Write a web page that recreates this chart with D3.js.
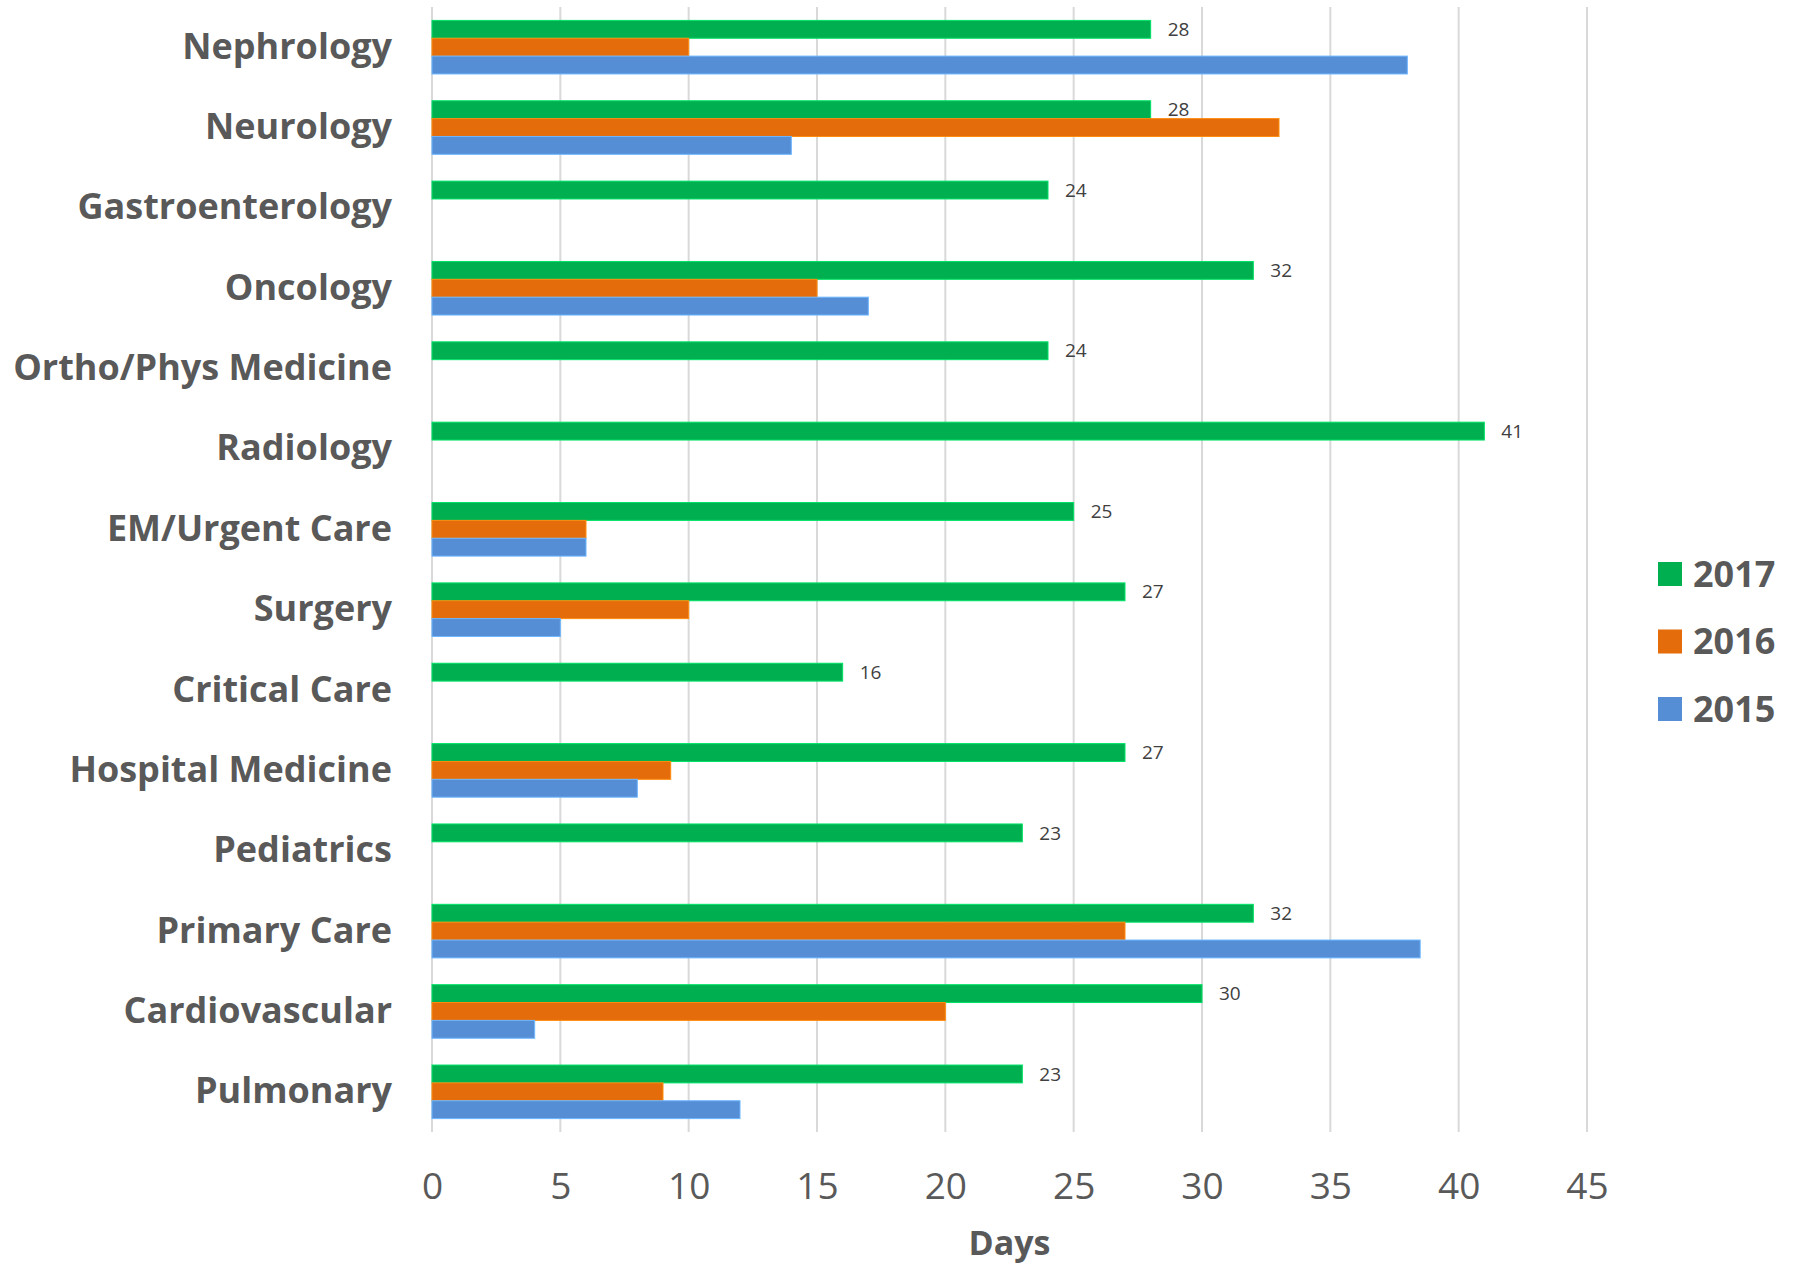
<!DOCTYPE html>
<html>
<head>
<meta charset="utf-8">
<script src="https://cdn.jsdelivr.net/npm/d3@7"></script>
<style>
  html, body { margin: 0; padding: 0; background: #ffffff; }
  svg { display: block; }
</style>
</head>
<body>
<svg id="chart" width="1799" height="1267"></svg>
<script>
// Specialties, top to bottom
const categories = [
  "Nephrology", "Neurology", "Gastroenterology", "Oncology", "Ortho/Phys Medicine",
  "Radiology", "EM/Urgent Care", "Surgery", "Critical Care", "Hospital Medicine",
  "Pediatrics", "Primary Care", "Cardiovascular", "Pulmonary"
];

// Series in the order they stack inside each group
const seriesNames = ["2017", "2016", "2015"];
const seriesColors = ["#00B050", "#E46C0A", "#558ED5"];

// Days per specialty (null = no value that year)
const values2017 = [28, 28, 24, 32, 24, 41, 25, 27, 16, 27, 23, 32, 30, 23];
const values2016 = [10, 33, null, 15, null, null, 6, 10, null, 9.3, null, 27, 20, 9];
const values2015 = [38, 14, null, 17, null, null, 6, 5, null, 8, null, 38.5, 4, 12];

const xTicks = [0, 5, 10, 15, 20, 25, 30, 35, 40, 45];
const xTitle = "Days";

const seriesValues = [values2017, values2016, values2015];

const svg = d3.select("#chart");
const plot = { left: 432, right: 1587, top: 7, bottom: 1132 };
const textColor = "#595959";

const x = d3.scaleLinear().domain([0, 45]).range([plot.left, plot.right]);
const y = d3.scaleBand().domain(categories).range([plot.top, plot.bottom]).padding(0);
const ySub = d3.scaleBand().domain(seriesNames).range([0, y.bandwidth()])
  .paddingInner(0).paddingOuter(0.75);

// Vertical gridlines
svg.append("g")
  .selectAll("line")
  .data(xTicks)
  .join("line")
  .attr("x1", d => x(d)).attr("x2", d => x(d))
  .attr("y1", plot.top).attr("y2", plot.bottom)
  .attr("stroke", "#D9D9D9")
  .attr("stroke-width", 2);

// X tick labels
const xAxis = d3.axisBottom(x).tickValues(xTicks).tickSize(0).tickPadding(0);
const gx = svg.append("g")
  .attr("transform", `translate(0,${plot.bottom + 54})`)
  .call(xAxis);
gx.select(".domain").remove();
gx.selectAll("text")
  .attr("dy", "0.35em")
  .attr("fill", textColor)
  .style("font-family", "'Open Sans', sans-serif")
  .style("font-size", "37px");

// X axis title
svg.append("text")
  .attr("x", (plot.left + plot.right) / 2)
  .attr("y", 1243)
  .attr("dy", "0.35em")
  .attr("text-anchor", "middle")
  .attr("fill", textColor)
  .style("font-family", "'Open Sans', sans-serif")
  .style("font-weight", "bold")
  .style("font-size", "34px")
  .text(xTitle);

// Category labels
const yAxis = d3.axisLeft(y).tickSize(0).tickPadding(40);
const gy = svg.append("g")
  .attr("transform", `translate(${plot.left},0)`)
  .call(yAxis);
gy.select(".domain").remove();
gy.selectAll("text")
  .attr("fill", textColor)
  .style("font-family", "'Open Sans', sans-serif")
  .style("font-weight", "bold")
  .style("font-size", "36px");

// Bars
const rows = [];
categories.forEach((c, i) => {
  seriesNames.forEach((s, j) => {
    const v = seriesValues[j][i];
    if (v != null) rows.push({ cat: c, series: s, value: v, color: seriesColors[j] });
  });
});

svg.append("g")
  .selectAll("rect")
  .data(rows)
  .join("rect")
  .attr("x", x(0))
  .attr("y", d => y(d.cat) + ySub(d.series))
  .attr("width", d => x(d.value) - x(0))
  .attr("height", ySub.bandwidth())
  .attr("fill", d => d.color)
  .attr("stroke", d => d3.color(d.color).brighter(0.7))
  .attr("stroke-width", 1);

// Value labels on the 2017 bars
svg.append("g")
  .selectAll("text")
  .data(rows.filter(d => d.series === "2017"))
  .join("text")
  .attr("x", d => x(d.value) + 17)
  .attr("y", d => y(d.cat) + ySub(d.series) + ySub.bandwidth() / 2)
  .attr("dy", "0.35em")
  .attr("fill", "#404040")
  .style("font-family", "'Open Sans', sans-serif")
  .style("font-size", "19px")
  .text(d => d.value);

// Legend
const legend = svg.append("g").attr("transform", "translate(1658,574)");
const item = legend.selectAll("g")
  .data(seriesNames)
  .join("g")
  .attr("transform", (d, i) => `translate(0,${i * 67.5})`);
item.append("rect")
  .attr("x", 0).attr("y", -12)
  .attr("width", 24).attr("height", 24)
  .attr("fill", (d, i) => seriesColors[i]);
item.append("text")
  .attr("x", 35).attr("y", 0)
  .attr("dy", "0.36em")
  .attr("fill", textColor)
  .style("font-family", "'Open Sans', sans-serif")
  .style("font-weight", "bold")
  .style("font-size", "36px")
  .text(d => d);
</script>
</body>
</html>
